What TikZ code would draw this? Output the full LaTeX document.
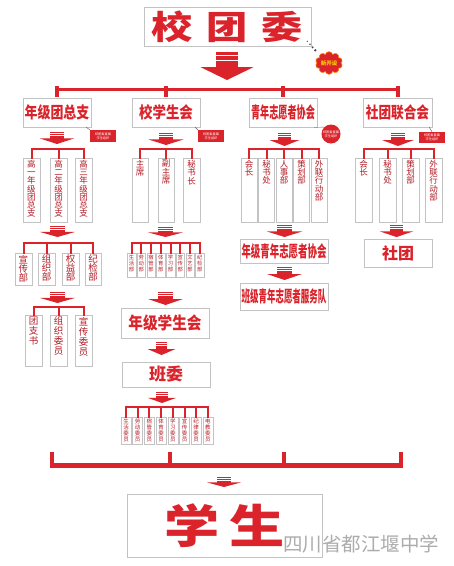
\documentclass[tikz,border=0pt]{standalone}
\usepackage{fontspec}
\setmainfont{Noto Sans CJK SC}
\usetikzlibrary{shapes.symbols,calc}
\definecolor{tred}{RGB}{218,35,42}
\definecolor{dred}{RGB}{178,28,38}
\definecolor{bgray}{RGB}{195,195,195}
\makeatletter
\newcommand\vstack[1]{\@tfor\vch:=#1\do{\vch\par}}
\makeatother
% horizontal box: name x1 y1 x2 y2 text
\newcommand\hbx[6]{\node[hb, minimum width=#4-#2, minimum height=#5-#3] (#1) at ({(#2+#4)/2},{(#3+#5)/2}) {#6};}
% vertical box: name x1 y1 x2 y2 size skip text
\newcommand\vbx[8]{\node[vb] (#1) at ({(#2+#4)/2},{(#3+#5)/2}) {\begin{minipage}[c][\dimexpr#5pt-#3pt\relax][t]{\dimexpr#4pt-#2pt\relax}\centering\fontsize{#6}{#7}\selectfont\vspace*{2pt}\vstack{#8}\end{minipage}};}
% striped down arrow: cx y1 y2 halfwidth
\newcommand\redarr[4]{%
 \fill[tred] ({#1-#4*0.42},#2) rectangle ({#1+#4*0.42},{#2+(#3-#2)*0.56});
 \fill[tred] ({#1-#4},{#2+(#3-#2)*0.54}) -- ({#1+#4},{#2+(#3-#2)*0.54}) -- (#1,#3) -- cycle;
 \draw[white,line width=0.7] ({#1-#4*0.42},{#2+(#3-#2)*0.13}) -- ({#1+#4*0.42},{#2+(#3-#2)*0.13});
 \draw[white,line width=0.7] ({#1-#4*0.42},{#2+(#3-#2)*0.29}) -- ({#1+#4*0.42},{#2+(#3-#2)*0.29});}
% bracket: y first last list
\newcommand\brk[4]{\coordinate (by) at (0,#1);
 \draw[rl] (#2.north |- by) -- (#3.north |- by);
 \foreach \nn in {#4} {\draw[rl] (\nn.north |- by) -- (\nn.north);}}
\begin{document}
\begin{tikzpicture}[x=1pt,y=-1pt,
 hb/.style={draw=bgray, fill=white, line width=0.6, inner sep=0, text=tred, font=\bfseries},
 vb/.style={draw=bgray, fill=white, line width=0.5, inner sep=0, text=dred},
 rl/.style={draw=tred, line width=2, line cap=rect},
 tag/.style={fill=tred, text=white, inner sep=0.5, font=\fontsize{3.2}{3.8}\selectfont, align=center, minimum width=26, minimum height=12},
 ptr/.style={draw=gray!70!black, line width=0.4}]
\fill[white] (0,0) rectangle (454,566);
\useasboundingbox (0,0) rectangle (454,566);

% top
\hbx{top}{144}{7}{311}{46}{\fontsize{33}{33}\selectfont\scalebox{1.25}[1]{校\hspace{11pt}团\hspace{11pt}委}}
\node[cloud, cloud puffs=10, aspect=1.3, fill=tred, draw=orange, line width=0.6, minimum width=27, minimum height=20, inner sep=0, text=yellow!70!orange, font=\fontsize{5.5}{5.5}\selectfont\bfseries] (cl) at (329,63) {新开设};
\coordinate (ds) at ([shift={(-4,-5)}]top.south east);
\foreach \p/\r in {0.0/0.7,0.22/0.9,0.44/1.1,0.66/1.3}
  \fill[gray!60!black] ($(ds)!\p!(cl.north west)$) circle (\r);
\redarr{227}{52}{80}{26.5}

% level 1
\hbx{A}{23}{98}{91}{127}{\fontsize{16}{16}\selectfont\scalebox{0.81}[1]{年级团总支}}
\hbx{B}{132}{98}{200}{127}{\fontsize{16}{16}\selectfont\scalebox{0.84}[1]{校学生会}}
\hbx{C}{249}{98}{317}{127}{\fontsize{16}{16}\selectfont\scalebox{0.57}[1]{青年志愿者协会}}
\hbx{D}{363}{98}{432}{127}{\fontsize{16}{16}\selectfont\scalebox{0.79}[1]{社团联合会}}
\coordinate (tb) at (0,89.5);
\coordinate (tt) at (0,86);
\draw[tred, line width=3.5] (A.north |- tb) -- (D.north |- tb);
\foreach \nn in {A,B,C,D} {\draw[tred, line width=4] (\nn.north |- tt) -- ([yshift=1]\nn.north);}

% tags
\node[tag] (tA) at (103,136) {校团委直属\\学生组织};
\node[tag] (tB) at (211,136) {校团委直属\\学生组织};
\node[tag, circle, minimum size=19, inner sep=0] (tC) at (331,134) {校团委直属\\学生组织};
\node[tag, minimum height=11] (tD) at (432,137.5) {校团委直属\\学生组织};
\draw[ptr] ([xshift=-5]A.south east) -- (tA.north west);
\draw[ptr] ([xshift=-5]B.south east) -- (tB.north west);
\draw[ptr] ([xshift=-3]C.south east) -- (tC.north west);
\draw[ptr] ([xshift=-3]D.south east) -- (tD.north);

% level 1 arrows
\redarr{57}{132}{144}{17}
\redarr{166}{133}{145}{17.5}
\redarr{284.5}{133}{146}{15}
\redarr{398}{133}{146}{16}

% level 2 vertical boxes
\vbx{A1}{23}{158}{40}{222}{8.5}{8.3}{高一年级团总支}
\vbx{A2}{50}{158}{67}{222}{8.5}{8.3}{高二年级团总支}
\vbx{A3}{75}{158}{92}{222}{8.5}{8.3}{高三年级团总支}
\vbx{B1}{132}{158}{148}{222}{8.5}{8.5}{主席}
\vbx{B2}{158}{158}{174}{222}{8.5}{8.5}{副主席}
\vbx{B3}{183}{158}{200}{222}{8.5}{8.5}{秘书长}
\vbx{C1}{241}{158}{257}{222}{8.5}{8.3}{会长}
\vbx{C2}{258.5}{158}{274.5}{222}{8.5}{8.3}{秘书处}
\vbx{C3}{276}{158}{292}{222}{8.5}{8.3}{人事部}
\vbx{C4}{293.5}{158}{309.5}{222}{8.5}{8.3}{策划部}
\vbx{C5}{311}{158}{327}{222}{8.5}{8.3}{外联行动部}
\vbx{D1}{355}{158}{372}{222}{8.5}{8.3}{会长}
\vbx{D2}{379}{158}{396}{222}{8.5}{8.3}{秘书处}
\vbx{D3}{402}{158}{419}{222}{8.5}{8.3}{策划部}
\vbx{D4}{425}{158}{442}{222}{8.5}{8.3}{外联行动部}
\brk{148.5}{A1}{A3}{A1,A2,A3}
\brk{148.5}{B1}{B3}{B1,B2,B3}
\brk{148.5}{C1}{C5}{C1,C2,C3,C4,C5}
\brk{148.5}{D1}{D4}{D1,D2,D3,D4}

% column A lower
\redarr{57.5}{226}{237}{17.5}
\vbx{A4}{15}{253}{32}{285}{9.5}{9}{宣传部}
\vbx{A5}{38}{253}{55}{285}{9.5}{9}{组织部}
\vbx{A6}{62}{253}{79}{285}{9.5}{9}{权益部}
\vbx{A7}{85}{253}{101}{285}{9.5}{9}{纪检部}
\brk{243}{A4}{A7}{A4,A5,A6,A7}
\redarr{57.5}{292}{303}{17.5}
\vbx{A8}{25}{315}{42}{366}{9.5}{10}{团支书}
\vbx{A9}{50}{315}{67}{366}{9.5}{10}{组织委员}
\vbx{A10}{75}{315}{92}{366}{9.5}{10}{宣传委员}
\brk{307}{A8}{A10}{A8,A9,A10}

% column B lower
\redarr{165.5}{227}{237}{17.5}
\vbx{S1}{127.25}{253}{135.75}{277}{5.3}{6.2}{生活部}
\vbx{S2}{137}{253}{145.5}{277}{5.3}{6.2}{劳动部}
\vbx{S3}{146.75}{253}{155.25}{277}{5.3}{6.2}{宿管部}
\vbx{S4}{156.5}{253}{165}{277}{5.3}{6.2}{体育部}
\vbx{S5}{166.25}{253}{174.75}{277}{5.3}{6.2}{学习部}
\vbx{S6}{176}{253}{184.5}{277}{5.3}{6.2}{宣传部}
\vbx{S7}{185.75}{253}{194.25}{277}{5.3}{6.2}{文艺部}
\vbx{S8}{195.5}{253}{204}{277}{5.3}{6.2}{纪检部}
\brk{243}{S1}{S8}{S1,S2,S3,S4,S5,S6,S7,S8}
\redarr{165.5}{292}{305}{17.5}
\hbx{NJX}{121}{308}{209}{338}{\fontsize{17}{17}\selectfont\scalebox{0.86}[1]{年级学生会}}
\redarr{161.5}{342}{355}{14}
\hbx{BW}{122}{362}{210}{387}{\fontsize{17}{17}\selectfont 班委}
\redarr{162}{392}{403}{14}
\vbx{W1}{121}{417}{131}{444}{5.5}{6}{生活委员}
\vbx{W2}{132.7}{417}{142.7}{444}{5.5}{6}{劳动委员}
\vbx{W3}{144.4}{417}{154.4}{444}{5.5}{6}{宿管委员}
\vbx{W4}{156.1}{417}{166.1}{444}{5.5}{6}{体育委员}
\vbx{W5}{167.8}{417}{177.8}{444}{5.5}{6}{学习委员}
\vbx{W6}{179.5}{417}{189.5}{444}{5.5}{6}{宣传委员}
\vbx{W7}{191.2}{417}{201.2}{444}{5.5}{6}{纪律委员}
\vbx{W8}{202.9}{417}{212.9}{444}{5.5}{6}{电教委员}
\brk{407}{W1}{W8}{W1,W2,W3,W4,W5,W6,W7,W8}

% column C lower
\redarr{284.5}{225}{237}{17.5}
\hbx{NJQ}{240}{239}{328}{263}{\fontsize{16}{16}\selectfont\scalebox{0.59}[1]{年级青年志愿者协会}}
\redarr{284.5}{267}{280}{17.5}
\hbx{BJQ}{240}{283}{328}{310}{\fontsize{16}{16}\selectfont\scalebox{0.53}[1]{班级青年志愿者服务队}}

% column D lower
\redarr{396.5}{225}{237}{16.5}
\hbx{ST}{364}{239}{432}{267}{\fontsize{16}{16}\selectfont 社团}

% bottom bracket
\coordinate (b1) at (52,452);
\coordinate (b2) at (170,452);
\coordinate (b3) at (284,452);
\coordinate (b4) at (401,452);
\coordinate (bb) at (0,465.5);
\coordinate (be) at (0,468);
\draw[tred, line width=5] (b1 |- bb) -- (b4 |- bb);
\foreach \nn in {b1,b2,b3,b4} {\draw[tred, line width=4.5] (\nn) -- (\nn |- be);}
\redarr{224}{477}{487}{17}
\hbx{XS}{127}{494}{322}{557}{\fontsize{46}{46}\selectfont\scalebox{1.2}[1]{学\hspace{8pt}生}}
\node[anchor=west, text=gray!65, font=\fontsize{19.5}{20}\selectfont, inner sep=0] (wm) at (283,544) {四川省都江堰中学};
\end{tikzpicture}
\end{document}
